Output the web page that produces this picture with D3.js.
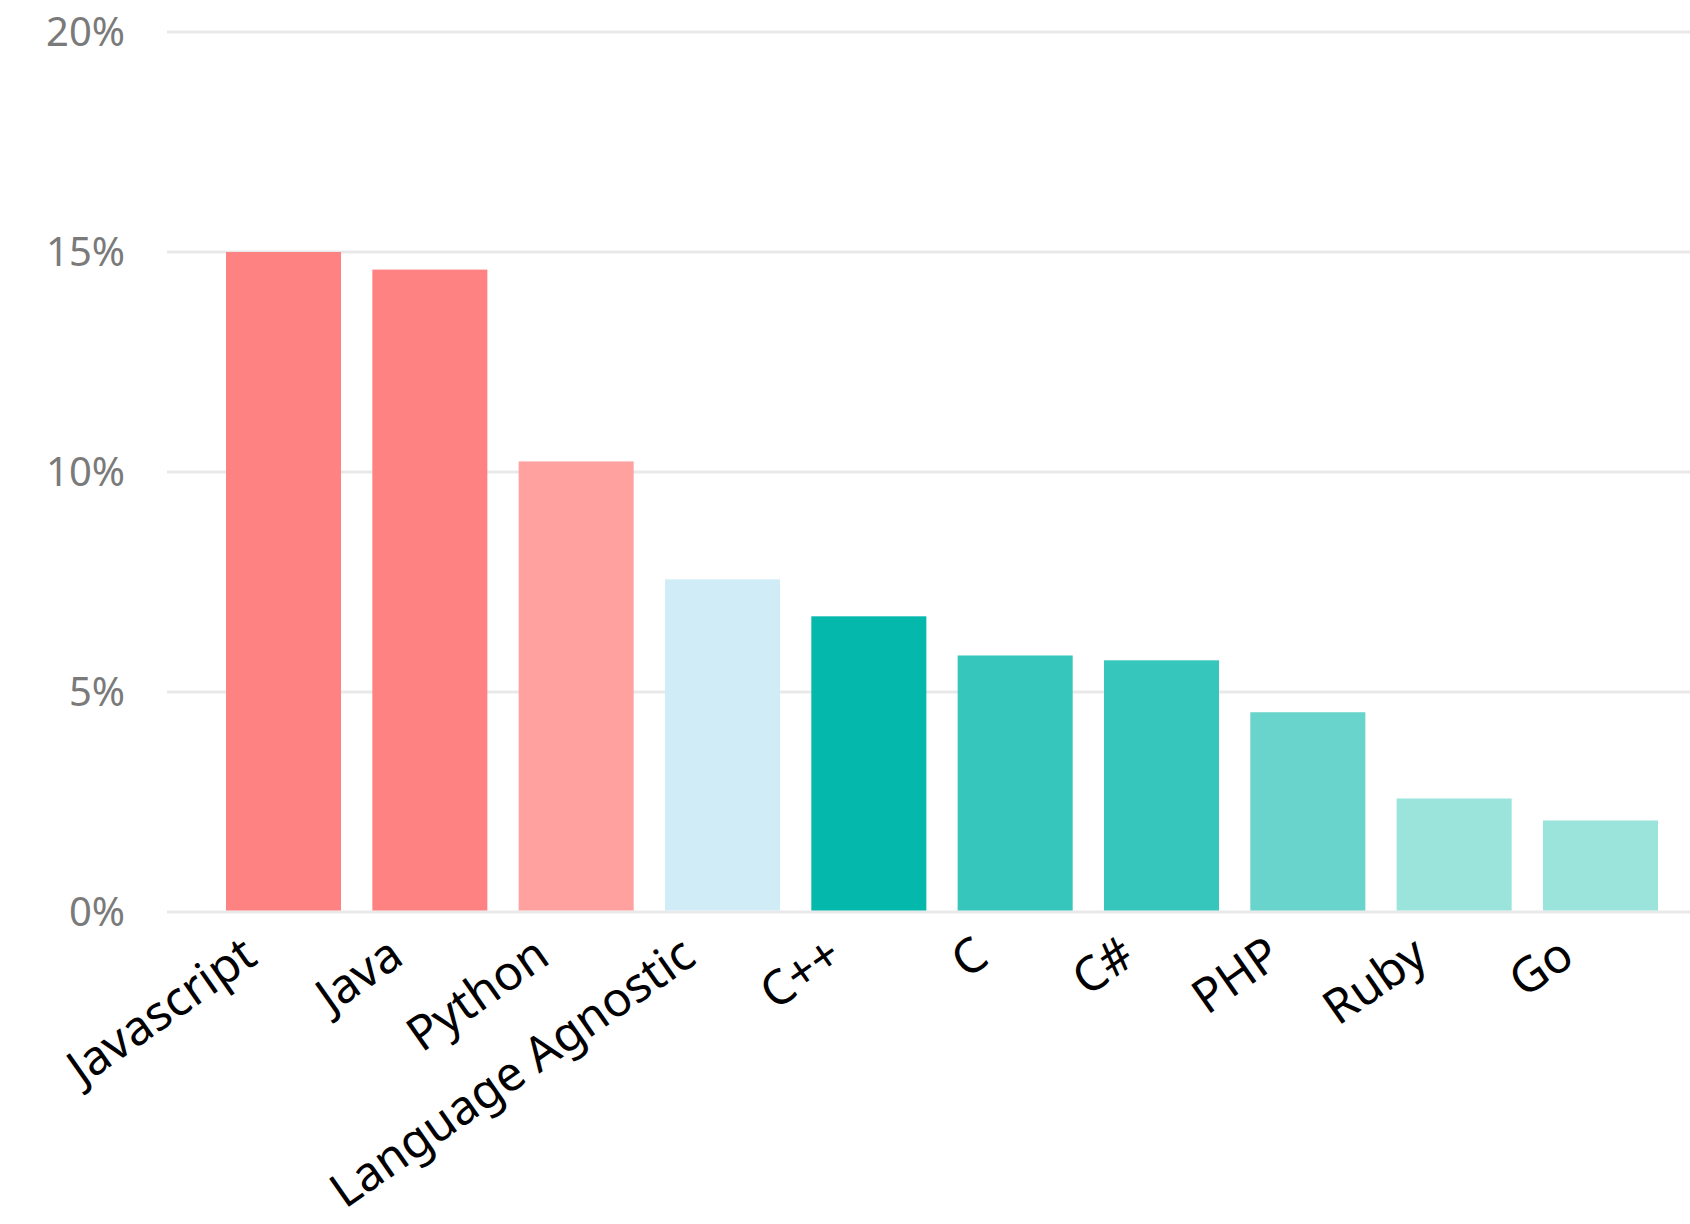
<!DOCTYPE html>
<html>
<head>
<meta charset="utf-8">
<script src="https://cdn.jsdelivr.net/npm/d3@7"></script>
<style>
  html, body { margin: 0; padding: 0; background: #ffffff; }
  svg { display: block; }
  text { font-family: "Noto Sans", "Open Sans", sans-serif; }
</style>
</head>
<body>
<svg id="chart" width="1690" height="1224"></svg>
<script>
const categories = ["Javascript", "Java", "Python", "Language Agnostic", "C++", "C", "C#", "PHP", "Ruby", "Go"];
const values = [15.0, 14.6, 10.24, 7.56, 6.72, 5.83, 5.72, 4.54, 2.58, 2.08];
const barColors = ["#fe8282", "#fe8282", "#fea19f", "#d0edf7", "#04b8ac", "#36c6bc", "#36c6bc", "#69d4cb", "#9be4dc", "#9be4dc"];
const yTicks = [0, 5, 10, 15, 20];
const yTickLabels = ["0%", "5%", "10%", "15%", "20%"];

const svg = d3.select("#chart");

const x = d3.scaleBand()
  .domain(categories)
  .range([226, 1658])
  .paddingInner(0.214)
  .paddingOuter(0);

const y = d3.scaleLinear()
  .domain([0, 20])
  .range([912, 32]);

// gridlines
svg.append("g").selectAll("line")
  .data(yTicks)
  .join("line")
  .attr("x1", 167)
  .attr("x2", 1690)
  .attr("y1", d => y(d))
  .attr("y2", d => y(d))
  .attr("stroke", "#e9e9e9")
  .attr("stroke-width", 3);

// y tick labels
svg.append("g").selectAll("text")
  .data(yTicks)
  .join("text")
  .attr("x", 125)
  .attr("y", d => y(d))
  .attr("dy", "0.36em")
  .attr("text-anchor", "end")
  .attr("fill", "#7a7a7a")
  .attr("font-size", 40)
  .text((d, i) => yTickLabels[i]);

// bars
svg.append("g").selectAll("rect")
  .data(categories)
  .join("rect")
  .attr("x", d => x(d))
  .attr("width", x.bandwidth())
  .attr("y", (d, i) => y(values[i]))
  .attr("height", (d, i) => y(0) - 1.5 - y(values[i]))
  .attr("fill", (d, i) => barColors[i]);

// category labels
svg.append("g").selectAll("text")
  .data(categories)
  .join("text")
  .attr("transform", d => `translate(${x(d) + x.bandwidth() / 2 - 24},962) rotate(-35)`)
  .attr("text-anchor", "end")
  .attr("fill", "#000000")
  .attr("font-size", 48)
  .text(d => d);
</script>
</body>
</html>
